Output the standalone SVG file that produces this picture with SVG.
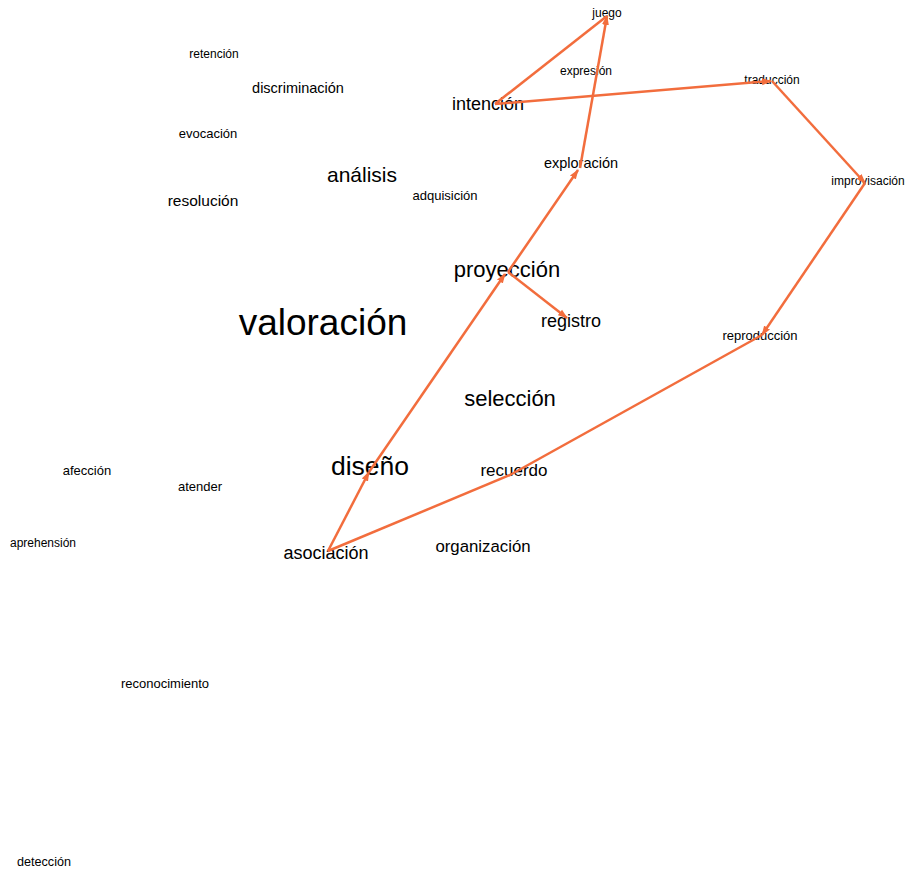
<svg xmlns="http://www.w3.org/2000/svg" width="907" height="871" viewBox="0 0 907 871">
<style>
text{font-family:"Liberation Sans",Arial,sans-serif;fill:#000;text-anchor:middle;dominant-baseline:central}
.e{stroke:#f26d3d;stroke-width:2.5;fill:none}
.a{marker-end:url(#ah)}
</style>
<defs>
<marker id="ah" markerUnits="userSpaceOnUse" markerWidth="10" markerHeight="8" viewBox="0 0 10 8" refX="9" refY="4" orient="auto">
<path d="M0,0.5 L10,4 L0,7.5 Z" fill="#f26d3d"/>
</marker>
</defs>
<rect width="907" height="871" fill="#fff"/>
<g id="nodes">
<g id="n-juego"><text x="607" y="13" font-size="12">juego</text></g>
<g id="n-expresion"><text x="586" y="71" font-size="12">expresión</text></g>
<g id="n-traduccion"><text x="772" y="80" font-size="12">traducción</text></g>
<g id="n-intencion"><text x="488" y="104" font-size="18">intención</text></g>
<g id="n-retencion"><text x="214" y="54" font-size="12">retención</text></g>
<g id="n-discriminacion"><text x="298" y="88" font-size="14.5">discriminación</text></g>
<g id="n-evocacion"><text x="208" y="133" font-size="13">evocación</text></g>
<g id="n-exploracion"><text x="581" y="163" font-size="14.5">exploración</text></g>
<g id="n-analisis"><text x="362" y="174" font-size="21">análisis</text></g>
<g id="n-adquisicion"><text x="445" y="195" font-size="13">adquisición</text></g>
<g id="n-resolucion"><text x="203" y="200" font-size="15.5">resolución</text></g>
<g id="n-improvisacion"><text x="868" y="181" font-size="12">improvisación</text></g>
<g id="n-proyeccion"><text x="507" y="269" font-size="22">proyección</text></g>
<g id="n-valoracion"><text x="323" y="322" font-size="37">valoración</text></g>
<g id="n-registro"><text x="571" y="321" font-size="18">registro</text></g>
<g id="n-reproduccion"><text x="760" y="335" font-size="13">reproducción</text></g>
<g id="n-seleccion"><text x="510" y="398" font-size="22">selección</text></g>
<g id="n-diseno"><text x="370" y="466" font-size="26.5">diseño</text></g>
<g id="n-afeccion"><text x="87" y="470" font-size="13">afección</text></g>
<g id="n-recuerdo"><text x="514" y="470" font-size="17">recuerdo</text></g>
<g id="n-atender"><text x="200" y="486" font-size="13">atender</text></g>
<g id="n-aprehension"><text x="43" y="543" font-size="12">aprehensión</text></g>
<g id="n-organizacion"><text x="483" y="546" font-size="16.8">organización</text></g>
<g id="n-asociacion"><text x="326" y="553" font-size="18">asociación</text></g>
<g id="n-reconocimiento"><text x="165" y="683" font-size="13">reconocimiento</text></g>
<g id="n-deteccion"><text x="44" y="862" font-size="12.6">detección</text></g>
</g>
<g id="connectors">
<line class="e a" x1="508" y1="272" x2="578" y2="170"/>
<line class="e a" x1="580" y1="168" x2="607" y2="16"/>
<line class="e" x1="607" y1="16" x2="495" y2="104"/>
<line class="e a" x1="495" y1="104" x2="771" y2="81"/>
<line class="e a" x1="772" y1="81" x2="865" y2="183"/>
<line class="e a" x1="865" y1="183" x2="762" y2="335"/>
<line class="e" x1="762" y1="335" x2="510" y2="475"/>
<line class="e" x1="510" y1="475" x2="328" y2="551"/>
<line class="e a" x1="328" y1="551" x2="369" y2="472"/>
<line class="e a" x1="369" y1="472" x2="505" y2="274"/>
<line class="e a" x1="508" y1="272" x2="567" y2="318"/>
</g>
</svg>
